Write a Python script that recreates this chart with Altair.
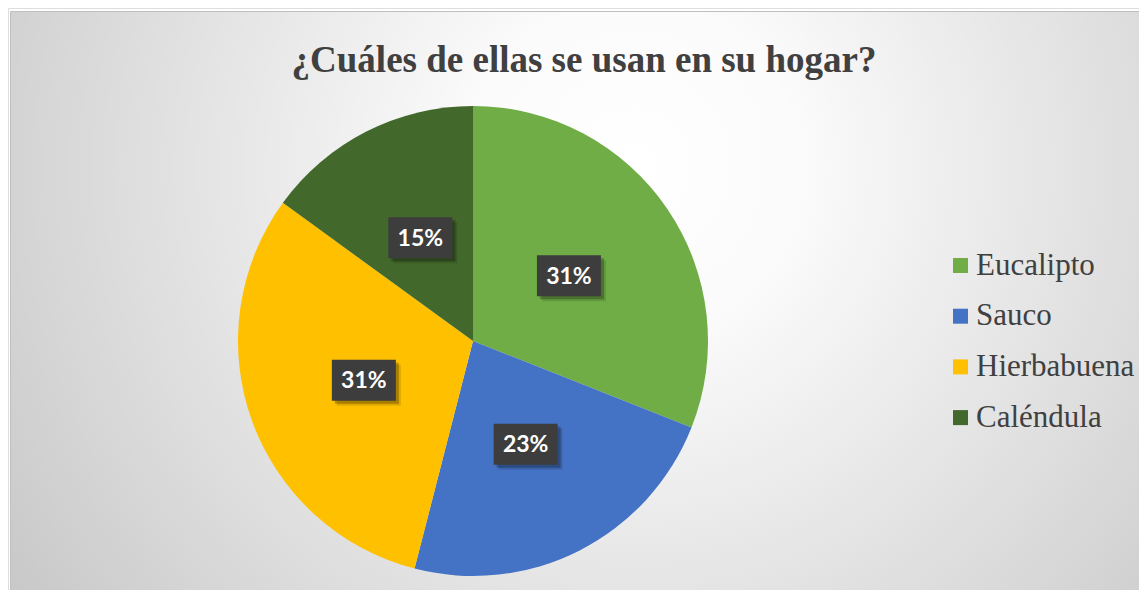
import altair as alt
import pandas as pd

# ---- data ----
categories = ["Eucalipto", "Sauco", "Hierbabuena", "Caléndula"]
values = [31, 23, 31, 15]
colors = ["#70AD47", "#4472C4", "#FFC000", "#43682B"]
title_text = "¿Cuáles de ellas se usan en su hogar?"

df = pd.DataFrame({"cat": categories, "value": values, "idx": list(range(len(categories)))})

W, H = 1131, 582
CX, CY, R = 465, 333, 235
LR = 116  # label radius
BW, BH = 32, 20.5

bg = alt.Chart(alt.Data(values=[{}])).mark_rect(
    color=alt.Gradient(
        gradient="radial",
        stops=[alt.GradientStop(color="#ffffff", offset=0),
               alt.GradientStop(color="#fbfbfb", offset=0.2),
               alt.GradientStop(color="#c3c3c3", offset=1)],
        x1=0.55, y1=0.38, r1=0, x2=0.55, y2=0.38, r2=0.72),
    stroke="#bfbfbf", strokeWidth=1,
).encode(x=alt.value(2.5), x2=alt.value(W + 5), y=alt.value(3.5), y2=alt.value(H + 5))

base = alt.Chart(df)

pie = base.mark_arc(outerRadius=R).encode(
    theta=alt.Theta("value:Q", stack=True),
    order=alt.Order("idx:Q"),
    color=alt.Color("cat:N",
                    scale=alt.Scale(domain=categories, range=colors),
                    sort=categories,
                    legend=alt.Legend(orient="none", legendX=937, legendY=242, title=None,
                                      symbolType="square", symbolSize=225, symbolStrokeWidth=0,
                                      labelFont="Liberation Serif", labelFontSize=31,
                                      labelColor="#404040", labelOffset=0, rowPadding=18.7,
                                      padding=0, labelLimit=300)),
    x=alt.value(CX), y=alt.value(CY),
)

lab = base.transform_joinaggregate(total="sum(value)").transform_window(
    cum="sum(value)", sort=[alt.SortField("idx")], frame=[None, 0]
).transform_calculate(
    mid="(datum.cum - datum.value/2) / datum.total * 2 * PI",
    pct="format(datum.value / datum.total, '.0%')",
).transform_calculate(
    px=f"{CX} + {LR} * sin(datum.mid)",
    py=f"{CY} - {LR} * cos(datum.mid)",
).transform_calculate(
    bx0=f"datum.px - {BW}", bx1=f"datum.px + {BW}",
    by0=f"datum.py - {BH}", by1=f"datum.py + {BH}",
)

def box(dx, dy, color, opacity):
    return lab.transform_calculate(
        sx0=f"datum.bx0 + {dx}", sx1=f"datum.bx1 + {dx}",
        sy0=f"datum.by0 + {dy}", sy1=f"datum.by1 + {dy}",
    ).mark_rect(color=color, opacity=opacity).encode(
        x=alt.X("sx0:Q", scale=None, axis=None), x2="sx1:Q",
        y=alt.Y("sy0:Q", scale=None, axis=None), y2="sy1:Q",
    )

shadow1 = box(5, 5, "#000000", 0.12)
shadow2 = box(3, 3, "#000000", 0.25)
boxes = box(0, 0, "#3d3d3d", 1)

texts = lab.mark_text(font="Lato", fontSize=23, fontWeight="bold", color="#ffffff",
                      align="center", baseline="middle", dy=1).encode(
    x=alt.X("px:Q", scale=None, axis=None),
    y=alt.Y("py:Q", scale=None, axis=None),
    text="pct:N",
)

title = alt.Chart(alt.Data(values=[{"t": title_text}])).mark_text(
    font="Liberation Serif", fontSize=37, fontWeight="bold", color="#404040",
    align="center", baseline="alphabetic",
).encode(x=alt.value(576), y=alt.value(64), text="t:N")

chart = alt.layer(bg, pie, shadow1, shadow2, boxes, texts, title).properties(
    width=W, height=H, padding=0, autosize=alt.AutoSizeParams(type="none"),
).configure_view(stroke=None).configure(background="#ffffff")

chart.save("out.html", embed_options={"renderer": "svg", "actions": False})
